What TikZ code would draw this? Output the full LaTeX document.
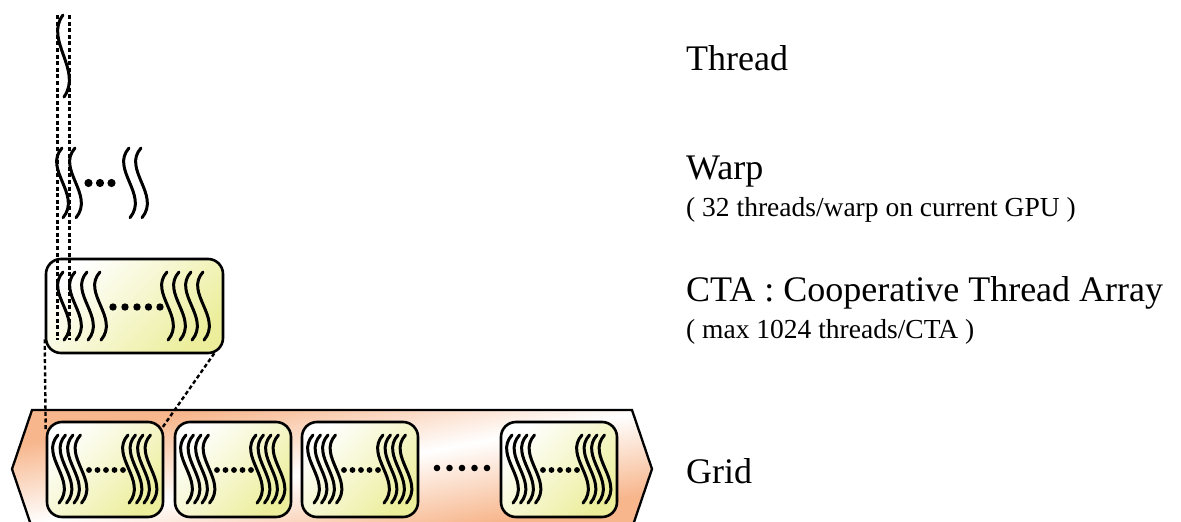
\documentclass[tikz,border=0pt]{standalone}
\usepackage{fontspec}
\setmainfont{Liberation Serif}
\definecolor{peach}{RGB}{247,182,140}
\definecolor{boxyel}{RGB}{236,238,156}
\begin{document}
\begin{tikzpicture}[x=1pt,y=-1pt,
  thrline/.style={line width=3pt, line cap=round},
  thrd/.pic={\draw[thrline] (0,0) .. controls (-19,25) and (20,55) .. (1,82);},
  ctabox/.style={draw=black, line width=2.6pt, rounded corners=15pt,
    top color=white, bottom color=boxyel, shading angle=45,
    inner sep=0pt, minimum height=95pt},
  zoomline/.style={line width=2.4pt, dash pattern=on 4pt off 2.6pt},
  bigtxt/.style={anchor=base west, inner sep=0pt, font=\fontsize{36}{42}\selectfont},
  smalltxt/.style={anchor=base west, inner sep=0pt, font=\fontsize{27.5}{32}\selectfont}
]
\useasboundingbox (0,0) rectangle (1181,522);

% ---- Grid hexagon: shaded fill (drawn squashed so the white band runs corner to corner)
\begin{scope}[transform canvas={shift={(332,469)}, yscale=0.184375}]
  \fill[top color=peach, bottom color=peach, middle color=white, shading angle=45]
    (-300,-320) -- (300,-320) -- (320,0) -- (300,320) -- (-300,320) -- (-320,0) -- cycle;
\end{scope}
\draw[line width=2.3pt, line join=miter]
  (32,410) -- (632,410) -- (652,469) -- (632,528) -- (32,528) -- (12,469) -- cycle;

% ---- Grid CTA boxes
\foreach \n/\x in {1/47,2/175,3/302,4/501}{
  \node[ctabox, minimum width=116pt] (g\n) at (\x+58,469.5) {};
  \foreach \dx in {11,18.5,26,33.5,81,88.5,96,103.5}{
    \pic[yscale=0.83] at (\x+\dx,435) {thrd};
  }
  \foreach \dx in {42,50.5,59,67.5,76}{
    \fill (\x+\dx,470) circle (2.9pt);
  }
}
\foreach \x in {437,449.5,462,474.5,487}{
  \fill (\x,468) circle (3.3pt);
}

% ---- CTA box
\node[ctabox, minimum width=177pt, minimum height=94pt] (cta) at (134.5,306) {};
\foreach \x in {63,75,87,100,167,179,191,203}{
  \pic[yscale=0.83] at (\x,272) {thrd};
}
\foreach \x in {113,125,137,148.5,160}{
  \fill (\x,307) circle (3.7pt);
}

% ---- Warp
\foreach \x in {62,75,129,141}{
  \pic[yscale=0.85] at (\x,148) {thrd};
}
\foreach \x in {88.5,100,111.5}{
  \fill (\x,183) circle (4.1pt);
}

% ---- Thread
\pic at (63,15) {thrd};

% ---- dashed guides
\coordinate (tA) at (57.5,15);
\coordinate (bA) at (57.5,340);
\coordinate (tB) at (69.5,15);
\coordinate (bB) at (69.5,340);
\draw[zoomline] (tA) -- (bA);
\draw[zoomline] (tB) -- (bB);
\draw[zoomline] ([yshift=15pt]cta.south west) -- ([yshift=-10pt]g1.north west);
\draw[zoomline] ([xshift=-10pt,yshift=1pt]cta.south east) -- ([xshift=-2pt,yshift=-7pt]g1.north east);

% ---- labels
\node[bigtxt] (lthread) at (686,70) {Thread};
\node[bigtxt] (lwarp) at (686,179) {Warp};
\node[smalltxt] (lwarps) at (686,216) {( 32 threads/warp on current GPU )};
\node[bigtxt] (lcta) at (686,301) {CTA : Cooperative Thread Array};
\node[smalltxt] (lctas) at (686,338) {( max 1024 threads/CTA )};
\node[bigtxt] (lgrid) at (686,483) {Grid};
\end{tikzpicture}
\end{document}
